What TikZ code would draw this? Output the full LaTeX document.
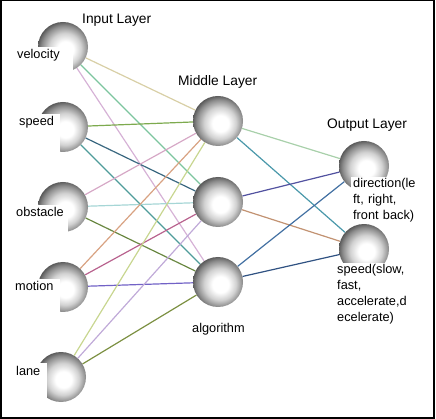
\documentclass[tikz,border=0pt]{standalone}
\usepackage{fontspec}
\setmainfont{Liberation Sans}
\usepackage{tikz}
\usepackage{xcolor}
\definecolor{wireTan}{HTML}{D8CFA6}
\definecolor{wireMint}{HTML}{7CC59E}
\definecolor{wireLilac}{HTML}{D6B2D6}
\definecolor{wireOlive}{HTML}{7DAA4E}
\definecolor{wireSlate}{HTML}{3A6880}
\definecolor{wireTeal}{HTML}{4E9C9A}
\definecolor{wirePink}{HTML}{D6A8C6}
\definecolor{wireCyan}{HTML}{A6D6D6}
\definecolor{wireMoss}{HTML}{6A8842}
\definecolor{wireApricot}{HTML}{D8A282}
\definecolor{wireMagenta}{HTML}{B8628E}
\definecolor{wirePurple}{HTML}{7262C6}
\definecolor{wireLime}{HTML}{C8D690}
\definecolor{wireLavender}{HTML}{C0AAD8}
\definecolor{wireGrass}{HTML}{7C9042}
\definecolor{wireSage}{HTML}{A8D0AA}
\definecolor{wireSea}{HTML}{4A98AA}
\definecolor{wireIndigo}{HTML}{5252A0}
\definecolor{wireBrown}{HTML}{C29272}
\definecolor{wireBlue}{HTML}{4270A2}
\definecolor{wireNavy}{HTML}{305282}

\pgfdeclareradialshading{neuronball}{\pgfqpoint{3bp}{-3bp}}{%
  color(0bp)=(white); color(8bp)=(white); color(16bp)=(black!18);
  color(23bp)=(black!45); color(28bp)=(black!70); color(33bp)=(black!76);
  color(50bp)=(black!76)}

\begin{document}
\begin{tikzpicture}[
  x=1pt, y=-1pt,
  neuron/.style={
    circle,
    minimum size=50pt,
    inner sep=0pt,
    shading=neuronball
  },
  link/.style={line width=1.2pt},
  layertitle/.style={
    font=\fontsize{13.8}{16}\selectfont,
    anchor=base west,
    inner sep=0pt
  },
  inlabel/.style={
    fill=white,
    anchor=base west,
    inner xsep=2pt,
    inner ysep=1pt,
    text height=11pt,
    text depth=27pt,
    align=left,
    font=\fontsize{12.75}{15.5}\selectfont
  },
  outlabel/.style={
    fill=white,
    anchor=base west,
    inner xsep=2pt,
    inner ysep=2pt,
    text width=64pt,
    align=left,
    font=\fontsize{12.75}{15.8}\selectfont
  }
]
  \useasboundingbox (0,0) rectangle (436,419);

  % Outer frame
  \draw[line width=1.5pt] (0.75,0.75) rectangle (434,418);

  % Input layer neurons
  \node[neuron] (in1) at (63,47) {};
  \node[neuron] (in2) at (63,127) {};
  \node[neuron] (in3) at (63,207) {};
  \node[neuron] (in4) at (63,287) {};
  \node[neuron] (in5) at (61,377) {};

  % Middle layer neurons
  \node[neuron] (mid1) at (218,121) {};
  \node[neuron] (mid2) at (218,202) {};
  \node[neuron] (mid3) at (218,282) {};

  % Output layer neurons
  \node[neuron] (out1) at (364,166) {};
  \node[neuron] (out2) at (364,249) {};

  % Input -> middle wires
  \draw[link, draw=wireTan] (in1) -- (mid1);
  \draw[link, draw=wireMint] (in1) -- (mid2);
  \draw[link, draw=wireLilac] (in1) -- (mid3);
  \draw[link, draw=wireOlive] (in2) -- (mid1);
  \draw[link, draw=wireSlate] (in2) -- (mid2);
  \draw[link, draw=wireTeal] (in2) -- (mid3);
  \draw[link, draw=wirePink] (in3) -- (mid1);
  \draw[link, draw=wireCyan] (in3) -- (mid2);
  \draw[link, draw=wireMoss] (in3) -- (mid3);
  \draw[link, draw=wireApricot] (in4) -- (mid1);
  \draw[link, draw=wireMagenta] (in4) -- (mid2);
  \draw[link, draw=wirePurple] (in4) -- (mid3);
  \draw[link, draw=wireLime] (in5) -- (mid1);
  \draw[link, draw=wireLavender] (in5) -- (mid2);
  \draw[link, draw=wireGrass] (in5) -- (mid3);

  % Middle -> output wires
  \draw[link, draw=wireSage] (mid1) -- (out1);
  \draw[link, draw=wireSea] (mid1) -- (out2);
  \draw[link, draw=wireIndigo] (mid2) -- (out1);
  \draw[link, draw=wireBrown] (mid2) -- (out2);
  \draw[link, draw=wireBlue] (mid3) -- (out1);
  \draw[link, draw=wireNavy] (mid3) -- (out2);

  % Layer titles
  \node[layertitle] (tin) at (82,24) {Input Layer};
  \node[layertitle] (tmid) at (178,86) {Middle Layer};
  \node[layertitle] (tout) at (327,129) {Output Layer};

  % Neuron labels (white boxes cut into the balls)
  \node[inlabel, text width=54pt] (lvel) at (15,59) {velocity};
  \node[inlabel, text width=39pt] (lspd) at (17,126) {speed};
  \node[inlabel, text width=50pt] (lobs) at (14,217) {obstacle};
  \node[inlabel, text width=43pt] (lmot) at (13,291) {motion};
  \node[inlabel, text width=29pt] (llan) at (14,375) {lane};
  \node[layertitle, font=\fontsize{12.75}{15.5}\selectfont] (lalg) at (192,332) {algorithm};

  \node[outlabel] (ldir) at (351,188) {direction(le\\ft, right,\\front back)};
  \node[outlabel] (lspo) at (335,274) {speed(slow,\\fast,\\accelerate,d\\ecelerate)};

\end{tikzpicture}
\end{document}
